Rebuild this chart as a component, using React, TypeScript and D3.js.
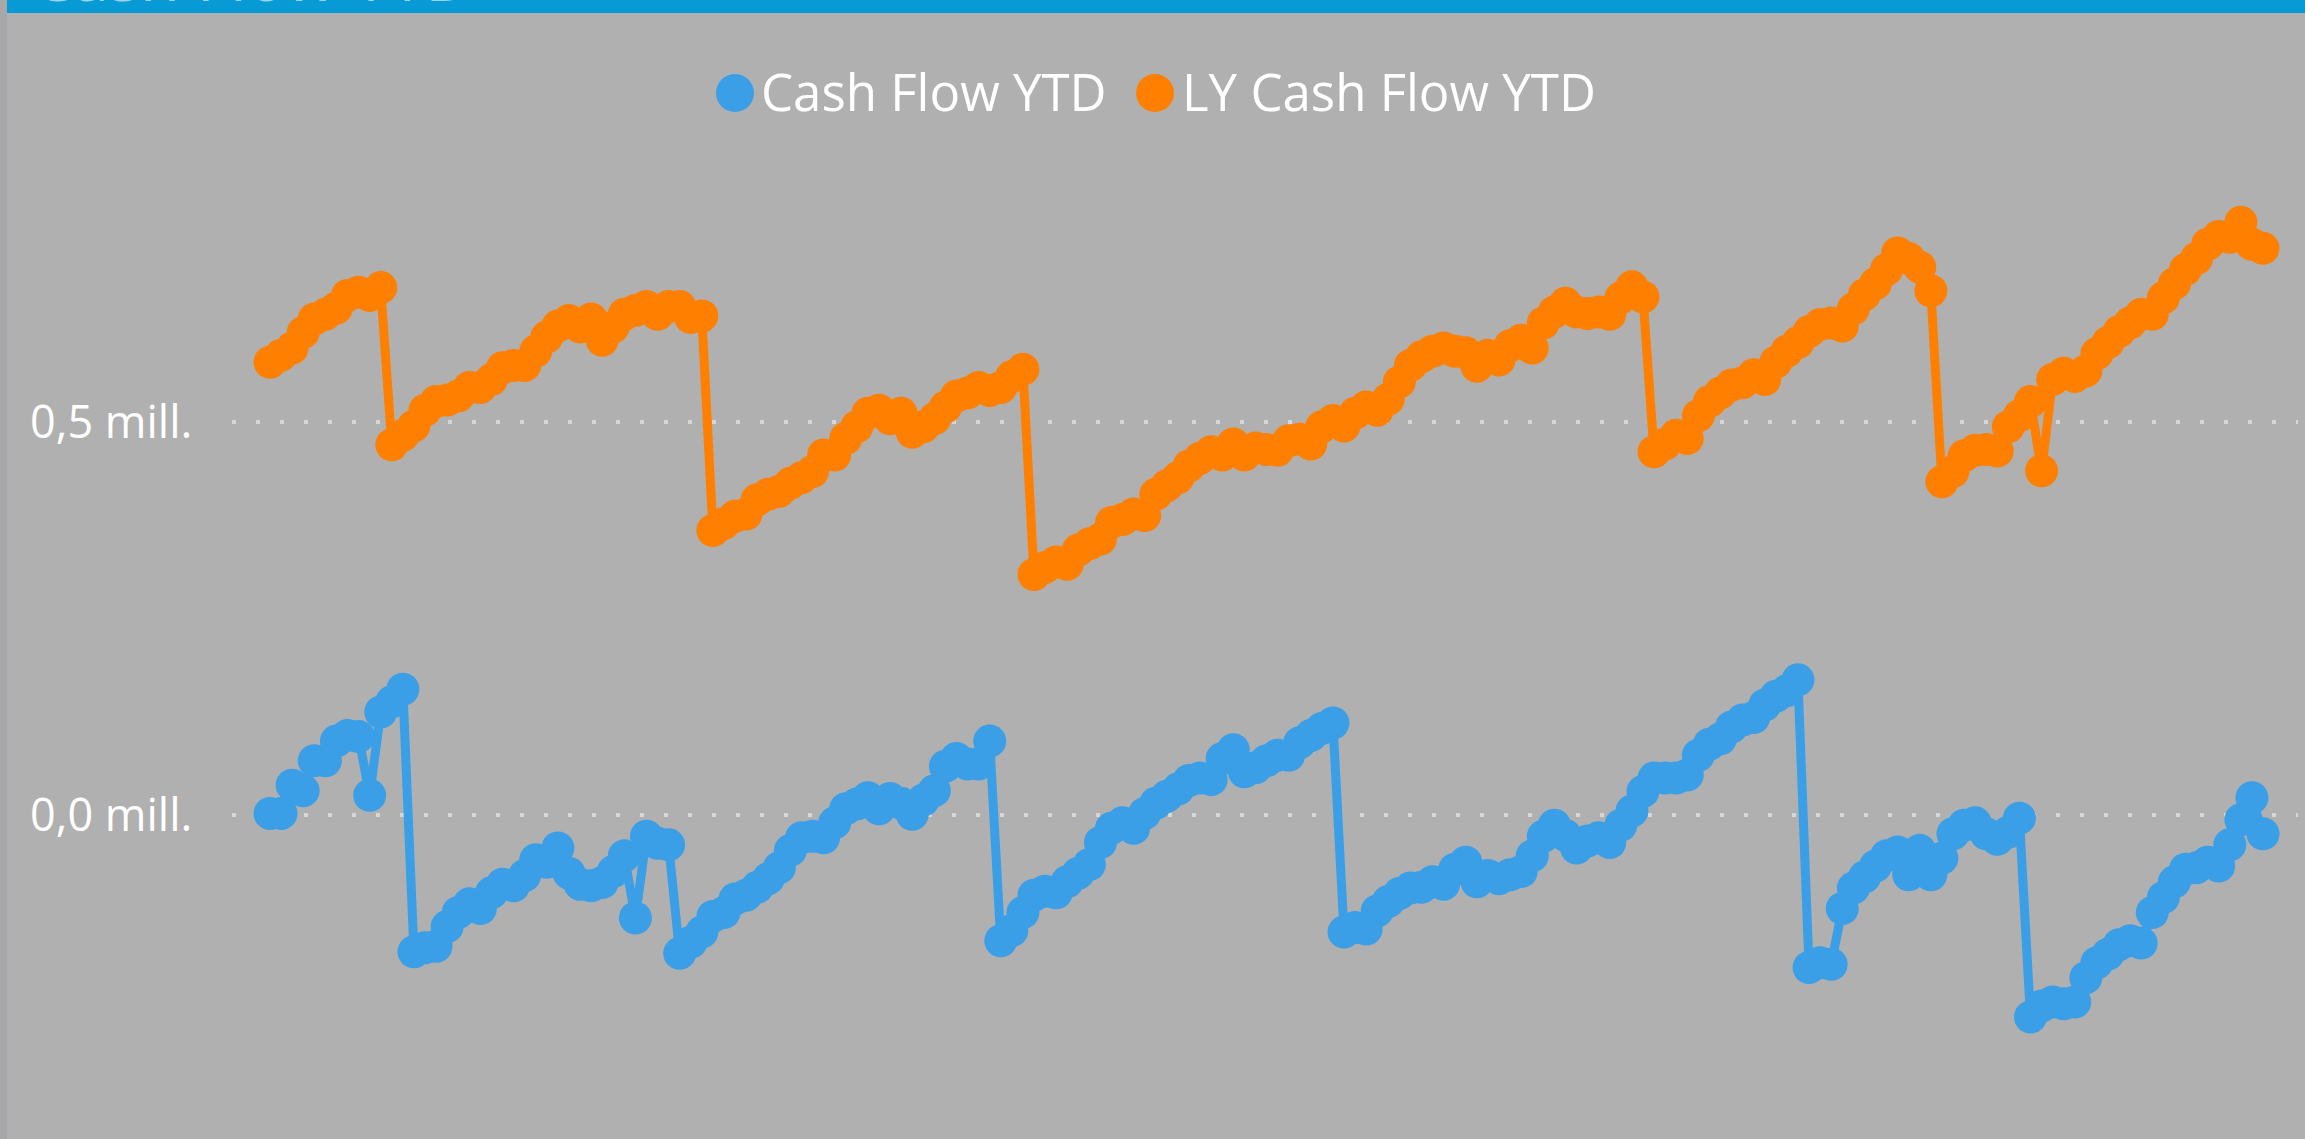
import React from 'react';
import * as d3 from 'd3';

// Values in thousands (NOK), one per period
const cashFlowYTD: number[] = [
  2, 2, 38, 31, 69, 69, 94, 101, 100, 25, 131, 144, 160,
  -174, -169, -167, -142, -124, -113, -119, -99, -88, -90, -77, -57, -60, -42,
  -74, -88, -90, -86, -72, -52, -131, -27, -36, -38,
  -176, -162, -149, -129, -124, -107, -102, -92, -81, -67, -45, -29, -27, -29,
  -10, 8, 14, 22, 8, 21, 15, 1, 19, 31, 62, 72, 65, 65, 94,
  -160, -147, -124, -102, -97, -99, -85, -74, -63, -35, -17, -10, -17, 2, 15,
  24, 33, 44, 47, 45, 72, 83, 55, 60, 69, 76, 76, 92, 101, 110, 117,
  -149, -143, -145, -122, -110, -100, -93, -92, -85, -88, -69, -60, -85, -77,
  -81, -76, -72, -52, -27, -13, -26, -42, -33, -29, -35, -13, 5, 30, 47, 47,
  47, 51, 76, 90, 97, 112, 121, 124, 140, 151, 158, 172,
  -194, -188, -190, -119, -93, -79, -65, -52, -47, -76, -45, -76, -55, -24,
  -13, -10, -24, -31, -22, -4,
  -257, -243, -238, -240, -238, -207, -188, -177, -165, -160, -163, -124,
  -105, -85, -69, -67, -60, -65, -38, -6, 22, -24,
];

const lyCashFlowYTD: number[] = [
  576, 585, 594, 614, 631, 637, 645, 661, 665, 661, 671,
  471, 483, 495, 515, 526, 528, 533, 544, 544, 554, 569, 572, 572, 590, 608,
  622, 629, 621, 631, 604, 621, 637, 642, 647, 637, 647, 647, 633, 635,
  362, 371, 380, 383, 401, 408, 412, 422, 429, 437, 458, 458, 479, 494, 511,
  515, 504, 511, 487, 494, 504, 519, 533, 537, 544, 540, 544, 558, 567,
  306, 315, 322, 319, 337, 345, 351, 372, 376, 383, 381, 408, 419, 429, 444,
  454, 462, 458, 472, 458, 467, 465, 464, 476, 478, 472, 494, 502, 495, 511,
  519, 515, 529, 551, 572, 583, 590, 594, 590, 588, 571, 585, 579, 597, 604,
  594, 626, 640, 651, 640, 638, 640, 637, 658, 672, 659,
  462, 472, 483, 479, 508, 526, 537, 547, 550, 560, 554, 576, 590, 601, 615,
  624, 626, 622, 644, 662, 676, 694, 715, 708, 697, 667,
  424, 437, 457, 464, 465, 463, 494, 508, 526, 438, 554, 562, 558, 565, 587,
  601, 615, 626, 637, 637, 658, 676, 694, 708, 726, 736, 735, 754, 726, 721,
];

const periods: number[] = d3.range(cashFlowYTD.length);
const yTicks: number[] = [0, 500];
const seriesNames: string[] = ['Cash Flow YTD', 'LY Cash Flow YTD'];
const seriesColors: string[] = ['#3A9FE6', '#FF7F00'];

const W = 2305;
const H = 1139;

const fmtTick = (v: number) => (v / 1000).toFixed(1).replace('.', ',') + ' mill.';

const App: React.FC = () => {
  const x = d3.scalePoint<number>().domain(periods).range([270, 2263]);
  const y = d3.scaleLinear().domain([0, 500]).range([815, 422]);

  const line = d3.line<number>()
    .x((_, i) => x(i) as number)
    .y(d => y(d));

  const series = [cashFlowYTD, lyCashFlowYTD];
  const font = '"Segoe UI", "Open Sans", sans-serif';

  return (
    <>
      <style>{`body{margin:0;overflow:hidden}`}</style>
      <svg width={W} height={H} style={{ display: 'block', fontFamily: font }}>
        <rect x={0} y={0} width={W} height={H} fill="#B0B0B0" />
        <rect x={0} y={0} width={7} height={H} fill="#A6A8AA" />
        {/* title bar, the title itself is scrolled off the top */}
        <rect x={7} y={0} width={W - 7} height={13} fill="#079AD5" />
        <text x={32} y={0.5} fontSize={65} fill="#ffffff" opacity={0.6}>Cash Flow YTD</text>

        {/* legend */}
        <g>
          <circle cx={735} cy={93} r={19} fill={seriesColors[0]} />
          <text x={761} y={111} fontSize={51} fill="#ffffff">{seriesNames[0]}</text>
          <circle cx={1155} cy={93} r={19} fill={seriesColors[1]} />
          <text x={1182} y={111} fontSize={51} fill="#ffffff">{seriesNames[1]}</text>
        </g>

        {/* y grid + labels */}
        {yTicks.map(t => (
          <g key={t}>
            <line x1={232} x2={2298} y1={y(t)} y2={y(t)}
              stroke="#D6D6D6" strokeWidth={4} strokeDasharray="4 20" />
            <text x={30} y={y(t)} dy="0.35em" fontSize={45} fill="#ffffff">{fmtTick(t)}</text>
          </g>
        ))}

        {/* series */}
        {series.map((s, k) => (
          <g key={k}>
            <path d={line(s) ?? ''} fill="none" stroke={seriesColors[k]} strokeWidth={9}
              strokeLinejoin="round" />
            {s.map((v, i) => (
              <circle key={i} cx={x(i)} cy={y(v)} r={16.5} fill={seriesColors[k]} />
            ))}
          </g>
        ))}
      </svg>
    </>
  );
};

export default App;
